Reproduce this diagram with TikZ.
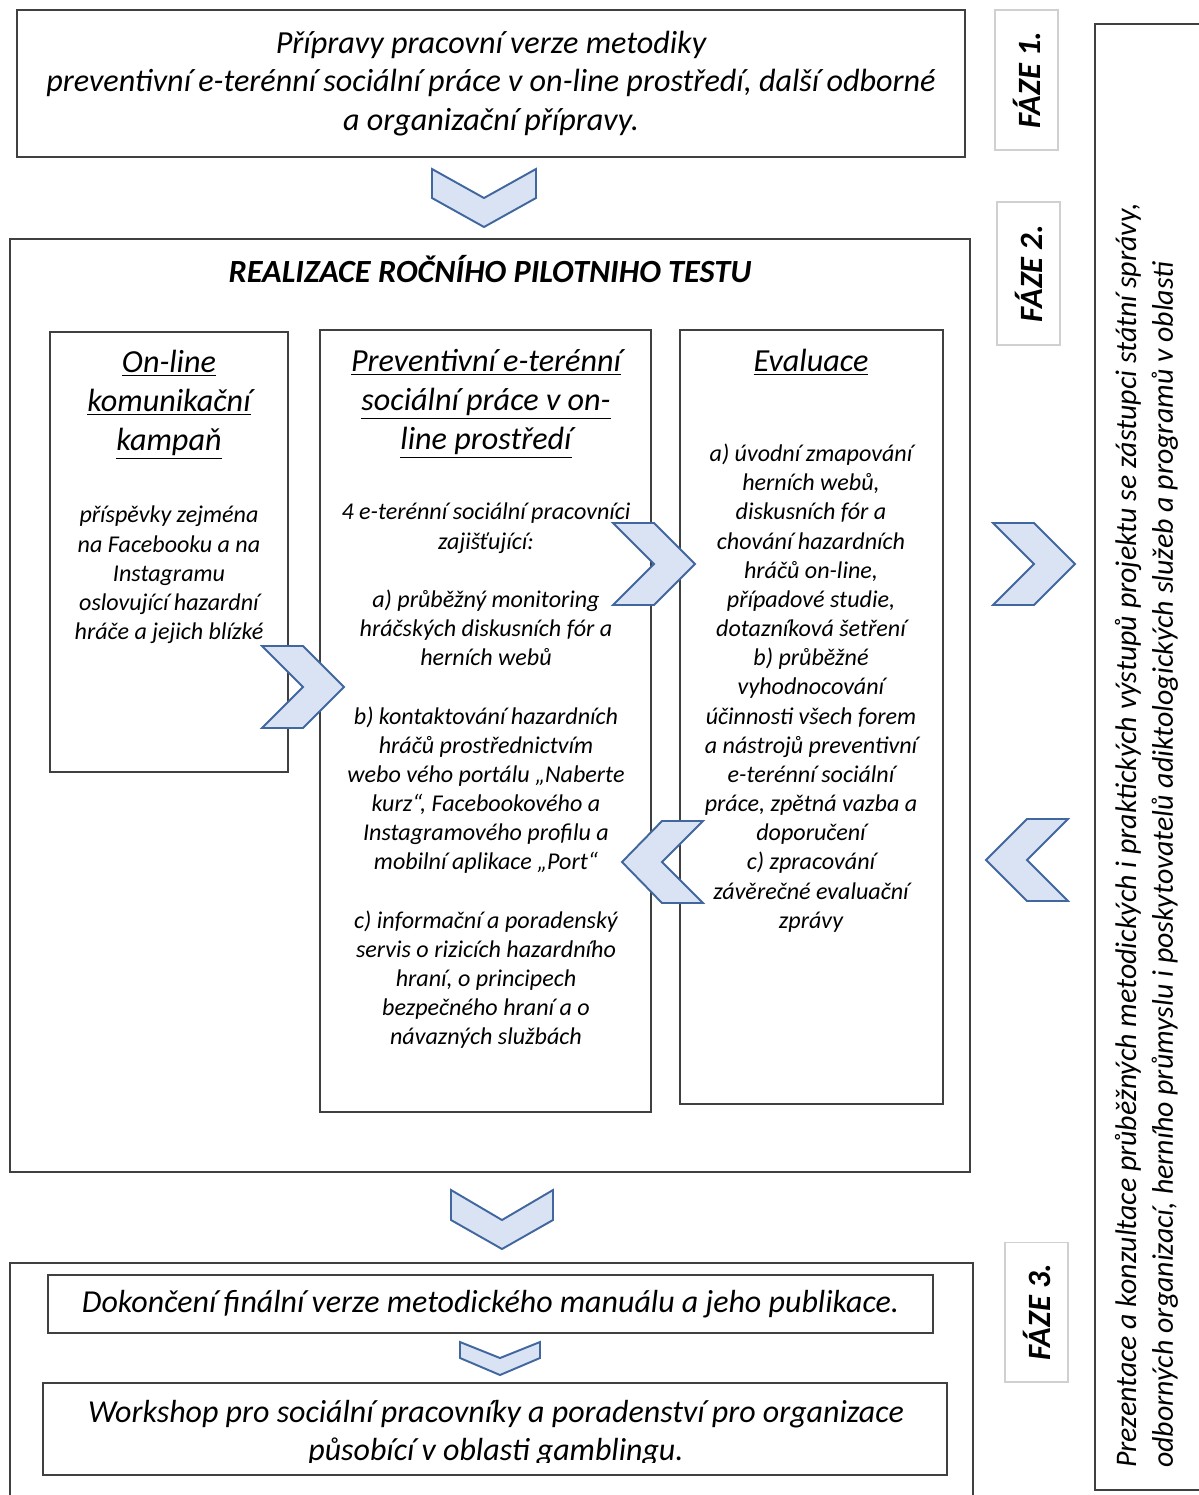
\documentclass[tikz,border=0pt]{standalone}
\usepackage{fontspec}
\setmainfont{Carlito}
\usepackage{tikz}
\usepackage{xcolor}
\definecolor{chevfill}{HTML}{DAE3F3}
\definecolor{chevline}{HTML}{41679F}
\definecolor{boxline}{HTML}{404040}
\definecolor{fazeline}{HTML}{D0D0D0}

\begin{document}
\begin{tikzpicture}[
    x=0.02cm, y=-0.02cm,
    box/.style={draw=boxline,line width=1.1pt,inner sep=0pt,align=center},
    col/.style={draw=boxline,line width=0.9pt,inner sep=0pt},
    faze/.style={draw=fazeline,line width=0.6pt,rotate=90,inner sep=0pt,minimum height=1.26cm,font=\fontsize{18.5}{21}\selectfont\bfseries\itshape},
    chev/.style={draw=chevline,fill=chevfill,line width=1.1pt,line join=miter},
    big/.style={font=\fontsize{18.3}{22.1}\selectfont\itshape,align=center},
    body/.style={font=\fontsize{13.7}{16.6}\selectfont\itshape,align=center},
    side/.style={font=\fontsize{17}{21}\selectfont\itshape,align=left},
    bottom/.style={font=\fontsize{18.2}{21.2}\selectfont\itshape}
]
\useasboundingbox (0,0) rectangle (1199,1495);
\clip (0,0) rectangle (1199,1495);

% faze 1
\node[box,big,minimum width=18.96cm,minimum height=2.94cm] (prep) at (491,83.5)
    {Přípravy pracovní verze metodiky\\preventivní e-terénní sociální práce v on-line prostředí, další odborné\\a organizační přípravy.};
\node[faze,minimum width=2.8cm] (faze1) at (1026.5,80) {FÁZE 1.};

% faze 2
\node[box,minimum width=19.2cm,minimum height=18.66cm] (pilot) at (490,705.5) {};
\node[font=\fontsize{18.4}{22}\selectfont\bfseries\itshape] (pilottitle) at (490,269) {REALIZACE ROČNÍHO PILOTNIHO TESTU};
\node[faze,minimum width=2.86cm] (faze2) at (1028.5,273.5) {FÁZE 2.};

\node[col,minimum width=4.76cm,minimum height=8.8cm] (camp) at (169,552) {};
\node[col,minimum width=6.62cm,minimum height=15.64cm] (eterr) at (485.5,721) {};
\node[col,minimum width=5.26cm,minimum height=15.48cm] (eval) at (811.5,717) {};

\node[big] (camptitle) at (169,405) {\underline{On-line}\\\underline{komunikační}\\\underline{kampaň}};
\node[body] (campbody) at (169,575) {příspěvky zejména\\na Facebooku a na\\Instagramu\\oslovující hazardní\\hráče a jejich blízké};

\node[big] (eterrtitle) at (486,404) {\underline{Preventivní e-terénní}\\\underline{sociální práce v on-}\\\underline{line prostředí}};
\node[body] (eterrbody) at (486,776) {4 e-terénní sociální pracovníci\\zajišťující:\\[16.6pt]
    a) průběžný monitoring\\hráčských diskusních fór a\\herních webů\\[16.6pt]
    b) kontaktování hazardních\\hráčů prostřednictvím\\webo vého portálu „Naberte\\kurz“, Facebookového a\\Instagramového profilu a\\mobilní aplikace „Port“\\[16.6pt]
    c) informační a poradenský\\servis o rizicích hazardního\\hraní, o principech\\bezpečného hraní a o\\návazných službách};

\node[big] (evaltitle) at (811,362) {\underline{Evaluace}};
\node[body] (evalbody) at (811,688) {a) úvodní zmapování\\herních webů,\\diskusních fór a\\chování hazardních\\hráčů on-line,\\případové studie,\\dotazníková šetření\\
    b) průběžné\\vyhodnocování\\účinnosti všech forem\\a nástrojů preventivní\\e-terénní sociální\\práce, zpětná vazba a\\doporučení\\
    c) zpracování\\závěrečné evaluační\\zprávy};

% faze 3
\node[box,minimum width=19.26cm,minimum height=5.34cm] (final) at (491.5,1396.5) {};
\node[faze,minimum width=2.8cm] (faze3) at (1036.5,1312) {FÁZE 3.};
\node[box,bottom,minimum width=17.7cm,minimum height=1.16cm] (manual) at (490.5,1304)
    {Dokončení finální verze metodického manuálu a jeho publikace.};
\node[box,bottom,minimum width=18.08cm,minimum height=1.84cm] (workshop) at (495,1429) {};
\begin{scope}
\clip (workshop.north west) rectangle ([yshift=0.26cm]workshop.south east);
\node[bottom,align=center] (workshoptext) at (496,1433)
    {Workshop pro sociální pracovníky a poradenství pro organizace\\působící v oblasti gamblingu.};
\end{scope}

% prezentace
\node[box,minimum width=2.9cm,minimum height=29.32cm] (present) at (1167.5,757) {};
\node[side,rotate=90,anchor=west] (presenttext) at (1146.5,1474)
    {Prezentace a konzultace průběžných metodických i praktických výstupů projektu se zástupci státní správy,\\
     odborných organizací, herního průmyslu i poskytovatelů adiktologických služeb a programů v oblasti};

% sipky
\draw[chev,shift={(484,198)}] (-52,-29) -- (0,0) -- (52,-29) -- (52,0) -- (0,29) -- (-52,0) -- cycle;
\draw[chev,shift={(502,1220)}] (-51,-30) -- (0,0) -- (51,-30) -- (51,0) -- (0,29) -- (-51,0) -- cycle;
\draw[chev,shift={(500,1358)}] (-40,-16) -- (0,0) -- (40,-16) -- (40,0) -- (0,17) -- (-40,0) -- cycle;
\draw[chev,shift={(303,687)}] (-41,-41) -- (0,-41) -- (41,0) -- (0,41) -- (-41,41) -- (0,0) -- cycle;
\draw[chev,shift={(654,564)}] (-41,-41) -- (0,-41) -- (41,0) -- (0,41) -- (-41,41) -- (0,0) -- cycle;
\draw[chev,shift={(1034,564)}] (-41,-41) -- (0,-41) -- (41,0) -- (0,41) -- (-41,41) -- (0,0) -- cycle;
\draw[chev,shift={(662,862)}] (41,-41) -- (0,-41) -- (-40,0) -- (0,41) -- (41,41) -- (0,0) -- cycle;
\draw[chev,shift={(1027,860)}] (41,-41) -- (0,-41) -- (-41,0) -- (0,41) -- (41,41) -- (0,0) -- cycle;

\end{tikzpicture}
\end{document}
